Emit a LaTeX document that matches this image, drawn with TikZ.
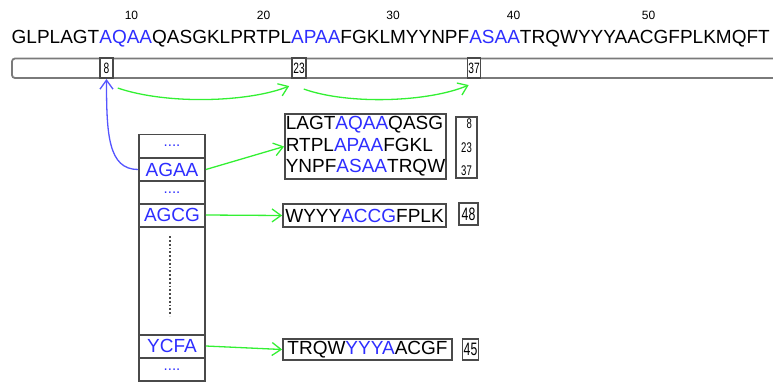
\documentclass[tikz,border=0pt]{standalone}
\usepackage{fontspec}
\usepackage{graphicx}
\setmainfont{Liberation Sans}
\usetikzlibrary{arrows.meta,calc}
\definecolor{seqblue}{HTML}{2E2EFF}
\definecolor{linkblue}{HTML}{5555FF}
\definecolor{linkgreen}{HTML}{33F033}
\definecolor{frame}{HTML}{4A4A4A}
\definecolor{barframe}{HTML}{7A7A7A}
\newcommand{\hl}[1]{\textcolor{seqblue}{#1}}
\newcommand{\narrow}[1]{\scalebox{0.68}[1]{#1}}

\begin{document}
\begin{tikzpicture}[x=1bp,y=-1bp,
  seq/.style={font=\fontsize{19bp}{21.5bp}\selectfont,inner sep=0pt},
  ruler/.style={font=\fontsize{12bp}{14bp}\selectfont,inner sep=0pt,anchor=base},
  posbox/.style={draw=frame,line width=1.6bp,fill=white,inner sep=0pt,minimum width=13bp,minimum height=20bp,font=\fontsize{15bp}{16bp}\selectfont},
  cell/.style={draw=frame,line width=1.8bp,inner sep=0pt,minimum width=66bp,minimum height=23bp,text=seqblue,font=\fontsize{19bp}{21.5bp}\selectfont},
  gapcell/.style={cell,font=\fontsize{15bp}{16bp}\selectfont},
  hitbox/.style={draw=frame,line width=1.8bp,inner sep=0pt,align=left,font=\fontsize{19bp}{21.5bp}\selectfont},
  numbox/.style={draw=frame,line width=1.8bp,inner sep=0pt,align=right,font=\fontsize{14bp}{23.5bp}\selectfont},
  link/.style={linkgreen,line width=1.3bp,-{Straight Barb[length=9bp,width=13bp]}}]

\useasboundingbox (0,0) rectangle (773,382);

% sequence and ruler
\foreach \n/\x in {10/131.5,20/263.5,30/393,40/513.5,50/648.5}
  \node[ruler] (r\n) at (\x,19.5) {\n};
\node[seq,anchor=base west] (seq) at (11.5,43.5) {GLPLAGT\hl{AQAA}QASGKLPRTPL\hl{APAA}FGKLMYYNPF\hl{ASAA}TRQWYYYAACGFPLKMQFT};

\draw[draw=barframe,line width=1.8bp,rounded corners=3bp] (12,58.5) rectangle (790,78);
\node[posbox] (p8) at (106.5,68.25) {\narrow{8}};
\node[posbox,minimum width=14bp] (p23) at (299,68.25) {\narrow{23}};
\node[posbox] (p37) at (474,68.25) {\narrow{37}};

% index column
\node[gapcell] (c1) at (172,146) {....};
\node[cell] (cA) at (172,169.5) {AGAA};
\node[gapcell] (c3) at (172,192.5) {....};
\node[cell] (cB) at (172,215) {AGCG};
\node[cell,minimum height=108bp] (cgap) at (172,281) {};
\node[cell] (cC) at (172,346) {YCFA};
\node[gapcell] (c7) at (172,369.5) {....};
\draw[frame,line width=2.4bp,dash pattern=on 1.8bp off 2bp] ($(cgap.north)+(-2,10)$) -- ($(cgap.south)+(-2,-20)$);

% hits
\node[hitbox,minimum width=161bp,minimum height=65bp] (h1) at (365.5,146.5) {LAGT\hl{AQAA}QASG\\RTPL\hl{APAA}FGKL\\YNPF\hl{ASAA}TRQW};
\node[numbox,minimum width=21bp,minimum height=61bp] (n1) at (466.5,147.5) {\narrow{8}\\\narrow{23}\\\narrow{37}};
\node[hitbox,minimum width=163bp,minimum height=23bp] (h2) at (364.5,215.5) {WYYY\hl{ACCG}FPLK};
\node[numbox,minimum width=19bp,minimum height=22bp,font=\fontsize{18bp}{20bp}\selectfont] (n2) at (468.5,214) {\narrow{48}};
\node[hitbox,minimum width=169bp,minimum height=21bp] (h3) at (367.5,349.5) {TRQW\hl{YYYA}ACGF};
\node[numbox,minimum width=16bp,minimum height=21bp,font=\fontsize{18bp}{20bp}\selectfont] (n3) at (470.5,349.5) {\narrow{45}};

\path[link] (cA.east) edge (h1.west) (cB.east) edge (h2.west) (cC.east) edge (h3.west);

% jumps along the sequence
\coordinate (g1) at ($(p8.south east)+(4,9)$);
\coordinate (g2) at ($(p23.south west)+(-2,7)$);
\coordinate (g3) at ($(p23.south east)+(-3,10)$);
\coordinate (g4) at ($(p37.south west)+(2,6)$);
\draw[link] (g1) .. controls +(50,17) and +(-40,16) .. (g2);
\draw[link] (g3) .. controls +(45,16) and +(-40,17) .. (g4);
\draw[link,linkblue] (cA.west) .. controls +(-30,0) and +(0,55) .. (p8.south);

\end{tikzpicture}
\end{document}
